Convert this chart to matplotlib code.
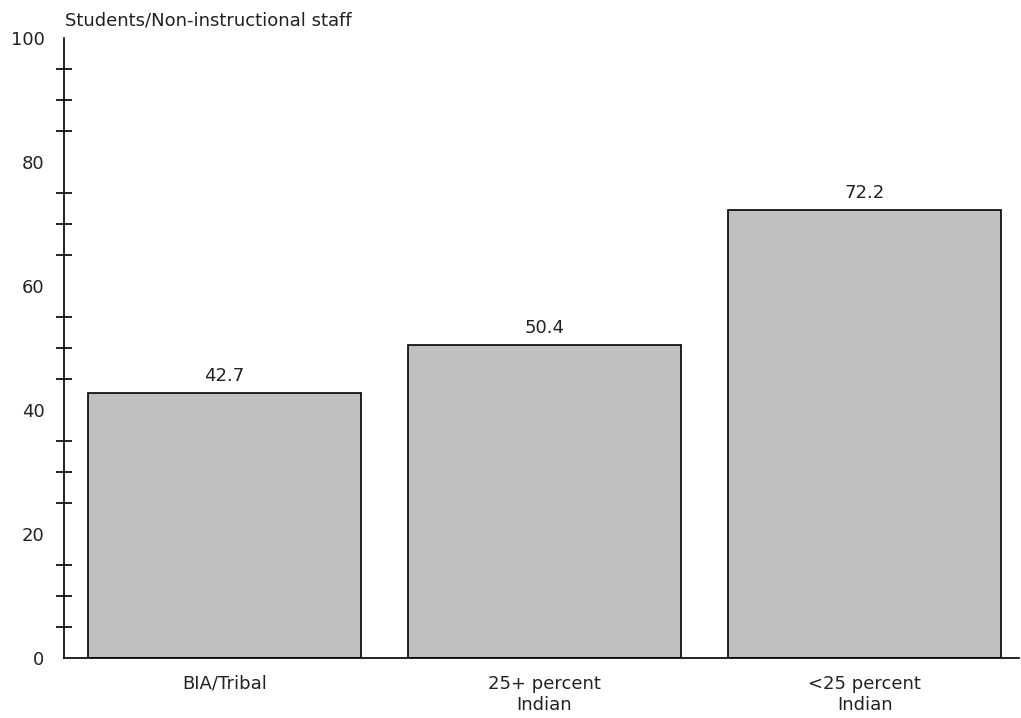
import matplotlib.pyplot as plt
import numpy as np

# data
categories = ["BIA/Tribal", "25+ percent\nIndian", "<25 percent\nIndian"]
ratios = [42.7, 50.4, 72.2]
value_labels = ["42.7", "50.4", "72.2"]
y_ticks = [0, 20, 40, 60, 80, 100]
y_minor = [5, 10, 15, 25, 30, 35, 45, 50, 55, 65, 70, 75, 85, 90, 95]


def main():
    plt.rcParams["font.family"] = ["DejaVu Sans"]
    fig = plt.figure(figsize=(10.21, 7.18), dpi=100)
    ax = fig.add_axes([0.0627, 0.0836, 0.935, 0.8635])

    x = np.arange(len(categories))
    bars = ax.bar(x, ratios, width=0.852, color="#c0c0c0",
                  edgecolor="black", linewidth=1.2)

    # value labels above the bars
    for bar, txt in zip(bars, value_labels):
        ax.annotate(txt, (bar.get_x() + bar.get_width() / 2, bar.get_height()),
                    xytext=(0, 6), textcoords="offset points",
                    ha="center", va="bottom", fontsize=13, color="#222222")

    ax.set_xlim(-0.5, 2.48)
    ax.set_ylim(0, 100)
    ax.set_xticks(x)
    ax.set_xticklabels(categories, fontsize=13, color="#222222",
                       linespacing=1.25)
    ax.tick_params(axis="x", length=0, pad=12)

    ax.set_yticks(y_ticks)
    ax.set_yticklabels([str(v) for v in y_ticks], fontsize=13, color="#222222")
    ax.tick_params(axis="y", which="major", length=0, pad=14)
    ax.set_yticks(y_minor, minor=True)
    ax.tick_params(axis="y", which="minor", direction="inout", length=11,
                   width=1.2)

    for side in ["top", "right"]:
        ax.spines[side].set_visible(False)
    ax.spines["left"].set_linewidth(1.2)
    ax.spines["bottom"].set_linewidth(1.2)

    fig.text(0.064, 0.972, "Students/Non-instructional staff", fontsize=13,
             color="#222222", ha="left", va="center")

    fig.savefig("out.png", dpi=100)


if __name__ == "__main__":
    main()
